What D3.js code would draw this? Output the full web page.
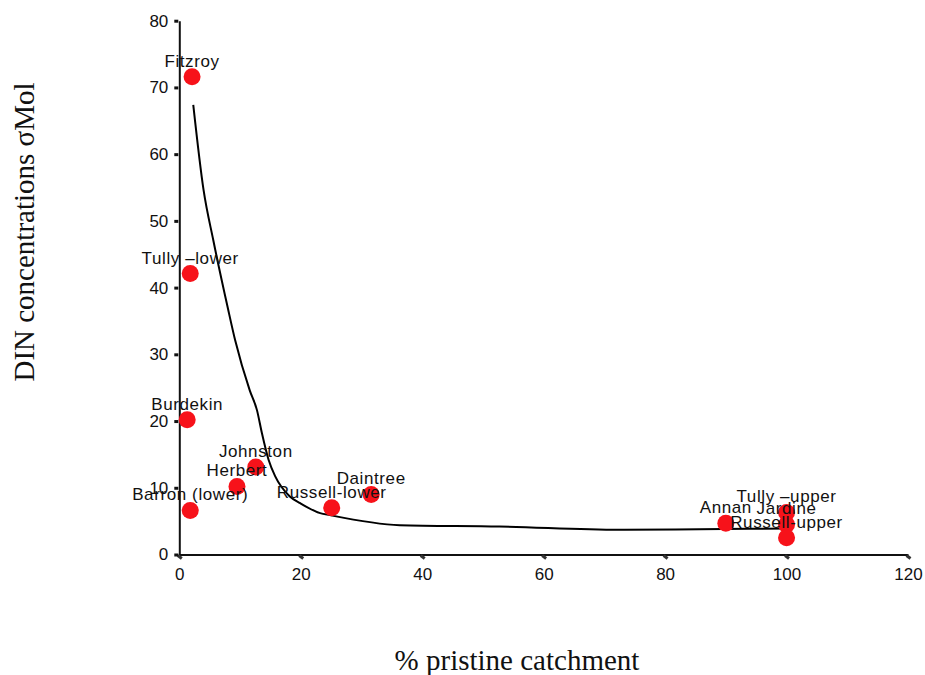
<!doctype html>
<html lang="en">
<head>
  <meta charset="utf-8">
  <title>DIN vs pristine catchment</title>
  <script src="https://d3js.org/d3.v7.min.js"></script>
  <style>
    body { margin: 0; background: white; }
    .lbl { font-family: "Liberation Sans", Arial, sans-serif; font-size: 17px; fill: #111; }
    .tick text { font-family: "Liberation Sans", Arial, sans-serif; font-size: 17px; fill: #111; }
    .title { font-family: "Liberation Serif", "Times New Roman", serif; font-size: 29px; fill: #111; }
  </style>
</head>
<body>
  <svg id="plot" width="925" height="675"></svg>

  <script>
    // river sites
    var rivers = ["Fitzroy", "Tully \u2013lower", "Burdekin", "Barron (lower)", "Herbert", "Johnston",
                  "Russell-lower", "Daintree", "Annan", "Tully \u2013upper", "Jardine", "Russell-upper"];
    var pristine = [2.1, 1.8, 1.3, 1.8, 9.5, 12.6, 25.1, 31.6, 90.0, 100, 100, 100];
    var din = [71.6, 42.1, 20.2, 6.6, 10.2, 13.1, 7.0, 9.0, 4.7, 6.3, 4.5, 2.5];

    // fitted curve
    var fitX = [2.3, 4.0, 5.6, 8.0, 9.2, 11.6, 12.8, 13.6, 14.7, 15.8, 18.2, 19.9, 23.2, 24.8, 36.3, 52.7, 72.5, 85.6, 100.6];
    var fitY = [67.4, 54.6, 47.1, 36.9, 32.1, 24.6, 21.6, 18.2, 14.2, 11.7, 8.7, 7.7, 6.2, 5.9, 4.4, 4.2, 3.7, 3.8, 3.9];

    var xTicks = [0, 20, 40, 60, 80, 100, 120];
    var yTicks = [0, 10, 20, 30, 40, 50, 60, 70, 80];

    var svg = d3.select("#plot");

    var x = d3.scaleLinear().domain([0, 120]).range([179.3, 908]);
    var y = d3.scaleLinear().domain([0, 80]).range([554.5, 20.7]);

    // x axis
    var gx = svg.append("g")
      .attr("transform", "translate(0," + y(0) + ")")
      .call(d3.axisBottom(x).tickValues(xTicks).tickSize(0).tickPadding(13));
    gx.select(".domain").attr("stroke", "#111").attr("stroke-width", 2);
    gx.selectAll(".tick").append("line")
      .attr("y1", 1).attr("y2", 4).attr("x1", -2).attr("x2", 2)
      .attr("stroke", "#333").attr("stroke-width", 3);

    // y axis
    var gy = svg.append("g")
      .attr("transform", "translate(" + x(0) + ",0)")
      .call(d3.axisLeft(y).tickValues(yTicks).tickSize(0).tickPadding(11));
    gy.select(".domain").attr("stroke", "#111").attr("stroke-width", 2);
    gy.selectAll(".tick").append("line")
      .attr("x1", -5).attr("x2", -1)
      .attr("stroke", "#111").attr("stroke-width", 3);

    // fitted line
    var fit = fitX.map(function (d, i) { return [d, fitY[i]]; });
    svg.append("path")
      .datum(fit)
      .attr("fill", "none")
      .attr("stroke", "black")
      .attr("stroke-width", 2)
      .attr("d", d3.line()
        .x(function (d) { return x(d[0]); })
        .y(function (d) { return y(d[1]); })
        .curve(d3.curveMonotoneX));

    // points
    svg.append("g").selectAll("circle")
      .data(rivers)
      .enter()
      .append("circle")
        .attr("cx", function (d, i) { return x(pristine[i]); })
        .attr("cy", function (d, i) { return y(din[i]); })
        .attr("r", 8.5)
        .style("fill", "#f7121a");

    // labels
    svg.append("g").selectAll("text")
      .data(rivers)
      .enter()
      .append("text")
        .attr("class", "lbl")
        .attr("x", function (d, i) { return x(pristine[i]); })
        .attr("y", function (d, i) { return y(din[i]) - 10; })
        .attr("text-anchor", "middle")
        .style("letter-spacing", "0.6px")
        .text(function (d) { return d; });

    // axis titles
    svg.append("text")
      .attr("class", "title")
      .attr("x", 517)
      .attr("y", 670)
      .attr("text-anchor", "middle")
      .text("% pristine catchment");

    svg.append("text")
      .attr("class", "title")
      .attr("transform", "translate(34,232) rotate(-90)")
      .attr("text-anchor", "middle")
      .text("DIN concentrations \u03c3Mol");
  </script>
</body>
</html>
